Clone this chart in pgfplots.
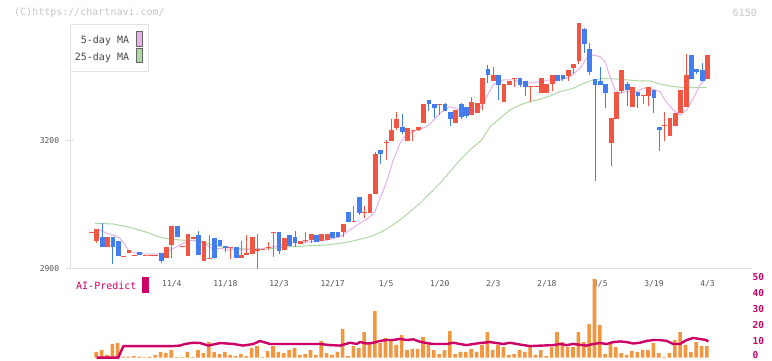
\documentclass[border=0pt]{standalone}
\usepackage{fontspec}
\setmainfont{DejaVu Sans Mono}
\usepackage{pgfplots}
\usepackage{pgfplotstable}
\pgfplotsset{compat=1.18}
\definecolor{cred}{RGB}{242,85,66}
\definecolor{cblue}{RGB}{66,126,240}
\definecolor{cpink}{RGB}{232,176,232}
\definecolor{cgreen}{RGB}{176,216,164}
\definecolor{cvol}{RGB}{242,150,64}
\definecolor{cai}{RGB}{204,0,102}
\definecolor{caxis}{RGB}{224,224,224}
\definecolor{ctext}{RGB}{85,85,85}

\pgfplotstableread{
x o h l c
0 2984 2984 2984 2984
1 2965 2991 2960 2991
3 2951 2972 2951 2972
6 2928 2928 2928 2928
7 2938 2943 2938 2943
8 2931 2931 2931 2931
10 2931 2931 2931 2931
11 2931 2931 2931 2931
12 2931 2931 2931 2931
14 2925 2949 2925 2949
15 2955 2999 2925 2999
17 2952 2952 2952 2952
18 2930 2980 2930 2980
19 2969 2972 2969 2972
21 2918 2962 2918 2962
22 2923 2978 2923 2923
26 2949 2949 2922 2949
28 2925 2964 2925 2931
29 2932 2978 2932 2936
30 2934 2973 2934 2973
31 2941 2980 2899 2945
32 2944 2944 2944 2944
33 2950 2962 2942 2950
34 2984 2984 2927 2984
36 2943 2971 2942 2971
39 2958 2963 2958 2963
40 2966 2985 2960 2966
41 2967 2980 2960 2980
43 2965 2980 2965 2980
44 2967 2980 2966 2980
47 2986 3002 2973 3002
49 3011 3046 3011 3011
51 3032 3046 3019 3032
52 3031 3072 3031 3072
53 3074 3172 3074 3166
55 3196 3201 3154 3196
56 3199 3250 3199 3222
57 3230 3266 3224 3248
59 3199 3227 3199 3227
60 3224 3224 3199 3224
61 3224 3231 3222 3231
62 3241 3283 3241 3283
65 3283 3283 3259 3283
68 3241 3271 3241 3271
71 3261 3301 3261 3288
72 3265 3287 3265 3287
73 3285 3346 3271 3346
75 3339 3372 3339 3353
77 3291 3332 3291 3332
78 3330 3337 3330 3337
79 3346 3346 3326 3346
82 3327 3327 3290 3327
83 3327 3327 3327 3327
84 3311 3346 3311 3346
85 3311 3332 3311 3332
86 3334 3353 3316 3353
89 3351 3363 3339 3363
90 3370 3377 3355 3377
91 3386 3473 3380 3473
97 3194 3252 3140 3252
98 3250 3313 3250 3313
99 3316 3363 3311 3363
101 3280 3323 3280 3323
103 3306 3306 3285 3306
104 3304 3323 3280 3323
107 3236 3266 3198 3236
108 3210 3252 3210 3252
109 3234 3262 3234 3262
110 3264 3318 3264 3318
111 3280 3402 3280 3353
115 3344 3398 3344 3398
}\up

\pgfplotstableread{
x o h l c
2 2973 3005 2951 2951
4 2972 2972 2910 2951
5 2962 2962 2930 2930
9 2937 2937 2931 2931
13 2936 2936 2912 2918
16 2999 2999 2974 2974
20 2976 2987 2932 2932
23 2971 2971 2925 2925
24 2966 2966 2953 2953
25 2952 2952 2939 2948
27 2950 2950 2925 2925
35 2984 2984 2934 2941
37 2976 2976 2952 2953
38 2973 2987 2951 2960
42 2978 2978 2963 2963
45 2985 2985 2973 2973
46 2983 2983 2974 2974
48 3032 3032 3010 3010
50 3067 3067 3026 3031
54 3177 3177 3145 3170
58 3231 3262 3214 3220
63 3293 3293 3269 3286
64 3283 3283 3252 3276
66 3283 3287 3269 3269
67 3266 3266 3234 3250
69 3283 3287 3250 3255
70 3277 3277 3253 3259
74 3367 3377 3335 3355
76 3353 3353 3295 3330
80 3346 3346 3326 3330
81 3337 3337 3304 3326
87 3353 3353 3339 3339
88 3353 3353 3339 3344
92 3459 3463 3404 3426
93 3412 3428 3353 3360
94 3342 3342 3105 3330
95 3337 3372 3330 3330
96 3332 3332 3276 3311
100 3332 3337 3280 3320
102 3313 3313 3276 3304
105 3318 3318 3264 3299
106 3231 3231 3175 3224
112 3398 3398 3344 3344
113 3367 3367 3355 3360
114 3363 3381 3339 3339
}\down

\pgfplotstableread{
x v
0 0
1 3.6
2 4.8
3 1.7
4 8.6
5 9.2
6 0.6
7 0.6
8 1.0
9 0.6
10 0.4
11 0.6
12 1.7
13 3.6
14 2.9
15 4.8
16 0.4
17 0.4
18 3.6
19 0.4
20 4.8
21 2.9
22 9.8
23 3.6
24 2.3
25 3.6
26 1.7
27 1.0
28 2.3
29 1.0
30 6.1
31 7.3
32 0.4
33 4.2
34 7.3
35 3.6
36 2.9
37 4.8
38 6.1
39 1.7
40 2.3
41 4.8
42 1.7
43 10.5
44 2.9
45 1.7
46 3.6
47 18.0
48 1.0
49 7.3
50 6.1
51 16.1
52 8.6
53 29.3
54 9.2
55 12.4
56 11.1
57 8.0
58 14.2
59 4.8
60 5.5
61 5.5
62 13.0
63 9.8
64 4.8
65 2.3
66 4.8
67 16.7
68 2.3
69 3.6
70 3.6
71 5.5
72 3.6
73 8.0
74 16.1
75 4.8
76 8.0
77 6.7
78 1.7
79 2.3
80 4.8
81 3.6
82 6.7
83 1.7
84 4.8
85 1.0
86 6.7
87 16.1
88 9.8
89 6.7
90 6.7
91 16.1
92 9.8
93 21.1
94 49.4
95 20.5
96 2.3
97 9.8
98 6.7
99 2.9
100 1.7
101 4.2
102 3.6
103 4.8
104 4.8
105 9.2
106 2.9
107 0.4
108 2.9
109 11.1
110 16.1
111 8.0
112 3.6
113 9.8
114 7.3
115 7.3
}\vol

\pgfplotstableread{
x y
0.65 2991.4
1.59 2989.8
2.84 2982
4.07 2978
5.32 2970.3
6.25 2954.6
6.87 2942.9
7.80 2936.6
10.30 2933.5
12.17 2933.5
13.40 2935.2
14.65 2942.9
15.90 2950.6
16.52 2954.6
17.77 2962.4
19.00 2966.3
20.25 2964
21.50 2954.6
22.74 2944.5
23.99 2946.9
25.85 2942.9
27.72 2942.9
30.20 2944.5
32.07 2946.9
33.94 2950.6
35.19 2954.6
37.67 2960
40.79 2962.4
43.91 2966.3
46.39 2974.1
48.25 2989.8
50.12 3005.5
51.99 3021
52.92 3032.7
53.85 3064
55.10 3103
56.34 3153.9
57.59 3193
58.52 3210
60.07 3220.2
62.57 3232
63.80 3246
65.37 3267
66.92 3278.8
68.79 3271
70.66 3263.3
72.52 3275
73.77 3302.2
75.00 3329.7
76.87 3341.4
78.74 3341.4
81.24 3333.6
83.72 3337.4
85.59 3341.4
87.46 3341.4
89.32 3349
91.19 3368.8
92.44 3392.2
93.67 3400
94.92 3396
95.86 3384.3
96.79 3349.1
97.72 3318
98.66 3310.2
99.91 3314
101.78 3314
103.00 3322
104.25 3322
106.12 3314
107.05 3294.5
108.60 3271
109.85 3259.3
111.10 3271
112.34 3298.5
113.59 3329.7
114.84 3345.4
}\maf

\pgfplotstableread{
x y
0.65 3005.5
4.07 3003.8
5.94 2999.2
7.80 2993.8
10.30 2984.4
12.79 2972.7
14.65 2968.7
16.52 2966.3
19.00 2964.7
21.50 2958.6
23.99 2950.6
26.47 2946.9
28.97 2945.2
31.45 2944.5
33.94 2946.9
37.05 2950.6
40.79 2953
43.91 2954.6
46.39 2958.6
48.25 2962.4
50.12 2968
51.99 2974.1
53.85 2983.4
55.72 2997.5
57.59 3013.2
59.45 3032.7
61.32 3052.4
63.19 3075.8
65.05 3099.2
66.92 3126.4
68.79 3153.9
70.66 3177.3
72.84 3200.7
74.39 3231.9
76.26 3251.6
78.12 3271
79.99 3282.8
81.86 3290.5
83.72 3296.1
85.59 3303.9
87.46 3314
89.94 3322
91.81 3333.6
93.67 3341.4
95.54 3345.4
98.66 3343
102.39 3339
104.25 3339
106.12 3332
107.98 3327.3
109.85 3324.3
112.34 3323.3
114.84 3324.3
}\mas

\pgfplotstableread{
x y
0.97 0
5.0 0
5.94 7.3
15.2 7.3
16.5 7.6
17.45 8.6
19.0 9.4
20.25 9.2
21.8 7.6
24.0 9.2
26.5 8.6
28.3 7.6
30.2 8.6
31.45 10.5
33.3 8.6
42.65 8.6
44.5 7.9
46.4 7.6
47.5 8.6
48.25 9.4
49.5 8.6
50.1 9.8
51.4 8.9
52.4 9.2
53.85 10.5
55.1 11.1
56.3 11.1
57.6 11.8
58.8 11.1
60.1 11.5
61.3 10.0
62.6 9.2
63.8 8.6
66.3 8.6
67.5 9.4
68.8 8.6
70.0 7.9
71.3 8.6
72.5 9.2
74.4 9.8
75.6 9.2
76.9 8.6
78.1 9.4
79.4 8.6
80.6 7.9
81.9 7.3
86.2 7.9
87.5 8.6
88.7 7.9
89.9 8.6
92.4 7.6
93.7 8.6
94.9 9.2
96.2 8.6
97.4 9.8
98.7 10.2
99.9 9.8
101.1 8.9
102.4 9.4
103.6 10.5
104.9 11.1
106.1 11.1
107.4 10.5
108.6 8.6
109.85 8.6
111.1 11.1
112.3 12.4
113.6 11.7
114.8 11.1
115.1 10.0
}\ai

\pgfplotsset{
  candle/.style={only marks, mark=*, mark size=0pt,
    mark options={draw opacity=0, fill opacity=0},
    error bars/.cd, y dir=plus, y explicit, error mark=none,
    error bar style={draw=#1, line width=1pt, opacity=1}},
  body/.style={only marks, mark=*, mark size=0pt,
    mark options={draw opacity=0, fill opacity=0},
    error bars/.cd, y dir=plus, y explicit, error mark=none,
    error bar style={draw=#1, line width=4.8pt, opacity=1}},
}

\begin{document}
\begin{tikzpicture}[x=1pt,y=1pt]
\path[use as bounding box] (0pt,0pt) rectangle (772pt,361pt);
\fill[white] (0pt,0pt) rectangle (772pt,361pt);
\node[anchor=west, inner sep=0pt, font=\fontsize{10}{12}\selectfont, text=black!22] at (14pt,348.3pt) {(C)https://chartnavi.com/};
\node[anchor=east, inner sep=0pt, font=\fontsize{10}{12}\selectfont, text=black!22] at (757pt,348.3pt) {6150};

\begin{axis}[
  at={(70.3pt,92.7pt)}, anchor=south west, scale only axis,
  width=681.7pt, height=244pt,
  xmin=-3.96, xmax=123.3, ymin=2900, ymax=3471.9,
  clip=false,
  axis x line*=bottom, axis y line*=left,
  axis line style={draw=caxis, line width=1.3pt, -},
  xtick={15,25,35,45,55,65,75,85,95,105,115},
  xticklabels={11/4,11/18,12/3,12/17,1/5,1/20,2/3,2/18,3/5,3/19,4/3},
  x tick style={draw=none},
  xticklabel style={anchor=center, yshift=-12pt, font=\fontsize{8}{9}\selectfont, text=ctext},
  extra x ticks={-3.96,7.6,19.18,30.75,42.32,53.89,65.45,77.02,88.59,100.16,111.72,123.29},
  extra x tick labels={},
  extra x tick style={tick align=center, major tick length=8pt, tick style={draw=caxis, line width=1.3pt}},
  ytick={2900,3200},
  yticklabels={2900,3200},
  y tick style={draw=caxis, line width=1.3pt},
  tick align=center, major tick length=8pt,
  yticklabel style={anchor=east, inner sep=0pt, xshift=-7pt, font=\fontsize{8}{9}\selectfont, text=ctext},
]
\addplot[cgreen, line width=1pt] table[x=x,y=y]{\mas};
\addplot[cpink, line width=1pt] table[x=x,y=y]{\maf};
% wicks
\addplot[candle=cred] table[x=x, y=l, y error plus expr=\thisrow{h}-\thisrow{l}]{\up};
\addplot[candle=cblue] table[x=x, y=l, y error plus expr=\thisrow{h}-\thisrow{l}]{\down};
% bodies
\addplot[body=cred] table[x=x, y expr=\thisrow{o}-1, y error plus expr={max(\thisrow{c}-\thisrow{o},0)+2}]{\up};
\addplot[body=cblue] table[x=x, y expr=\thisrow{c}-1, y error plus expr={max(\thisrow{o}-\thisrow{c},0)+2}]{\down};
\end{axis}

% legend
\draw[caxis, line width=1pt, fill=white] (70.3pt,289.7pt) rectangle (148.6pt,336.7pt);
\node[anchor=east, inner sep=0pt, font=\fontsize{10}{12}\selectfont, text=black!72] at (129.3pt,320.3pt) {5-day MA};
\node[anchor=east, inner sep=0pt, font=\fontsize{10}{12}\selectfont, text=black!72] at (129.3pt,303.7pt) {25-day MA};
\draw[draw=black!60, line width=0.8pt, fill=cpink] (136.8pt,314.8pt) rectangle (142.2pt,329.5pt);
\draw[draw=black!60, line width=0.8pt, fill=cgreen] (136.8pt,298.2pt) rectangle (142.2pt,312.2pt);

\begin{axis}[
  at={(70.3pt,3.3pt)}, anchor=south west, scale only axis,
  width=681.7pt, height=79.7pt,
  xmin=-3.96, xmax=123.3, ymin=0, ymax=50,
  clip=false,
  axis x line=none, axis y line*=right,
  y axis line style={draw=none},
  ytick={10,20,30,40,50},
  yticklabels={10,20,30,40,50},
  extra y ticks={0},
  extra y tick labels={0},
  extra y tick style={yticklabel style={yshift=1.6pt}},
  major tick length=0pt,
  yticklabel style={anchor=west, inner sep=0pt, xshift=0.5pt, yshift=0.6pt, font=\bfseries\fontsize{9.5}{11}\selectfont, text=cai},
]
\addplot[ybar, bar width=3.6pt, bar shift=-0.6pt, fill=cvol, draw=none] table[x=x,y=v]{\vol};
\addplot[cai, line width=2.4pt, line join=round] table[x=x,y=y]{\ai};
\end{axis}

\node[anchor=west, inner sep=0pt, font=\fontsize{10}{12}\selectfont, text=cai] at (76pt,75pt) {AI-Predict};
\fill[cai] (141.7pt,68.3pt) rectangle (149pt,84.3pt);
\end{tikzpicture}
\end{document}
